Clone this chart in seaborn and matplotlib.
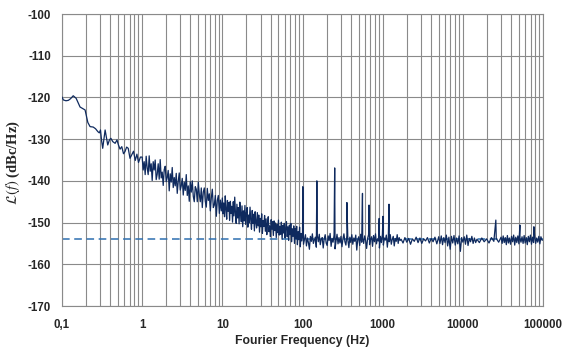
import numpy as np
import pandas as pd
import matplotlib
matplotlib.use("Agg")
import matplotlib.pyplot as plt
import seaborn as sns
from matplotlib.ticker import MultipleLocator, LogLocator, FixedLocator, NullFormatter

# ---------------- data ----------------
# low-frequency part, 0.1 Hz .. 1 Hz
low_freq = [0.100, 0.104, 0.112, 0.120, 0.128, 0.138, 0.150, 0.168, 0.182, 0.194,
            0.210, 0.224, 0.245, 0.262, 0.280, 0.292, 0.302, 0.312, 0.322, 0.335,
            0.345, 0.358, 0.372, 0.390, 0.407, 0.430, 0.460, 0.485, 0.506, 0.530,
            0.557, 0.585, 0.610, 0.640, 0.670, 0.705, 0.740, 0.780, 0.820, 0.860,
            0.900, 0.950]
low_val = [-119.9, -120.6, -120.8, -120.7, -120.3, -119.6, -120.2, -122.3, -122.7, -123.0,
           -126.0, -127.0, -127.1, -127.5, -128.2, -128.5, -127.8, -130.4, -132.2, -129.6,
           -127.8, -129.5, -131.4, -130.2, -129.8, -130.6, -131.0, -130.2, -131.4, -132.4,
           -131.8, -133.5, -133.0, -131.9, -132.2, -134.6, -133.8, -132.9, -135.1, -133.6,
           -135.6, -134.3]

# 1 Hz .. 10 Hz (dense noisy band)
seg1_range = (1.0, 10.0)
seg1_val = [-134.3, -137.4, -135.4, -138.5, -134.1, -136.9, -138.5, -134.0, -137.7, -135.9,
            -139.9, -135.4, -137.4, -135.0, -139.7, -138.4, -135.9, -139.6, -134.9, -139.3,
            -137.9, -141.1, -137.3, -136.5, -140.2, -139.2, -137.5, -142.4, -138.3, -140.3,
            -136.8, -141.6, -139.2, -141.2, -138.2, -143.0, -140.1, -138.1, -142.2, -141.2,
            -139.4, -143.4, -140.3, -142.3, -138.5, -143.5, -141.2, -144.9, -140.2, -142.7,
            -140.0, -143.7, -145.0, -141.4, -142.0, -145.0, -140.3, -143.2, -145.0, -141.7,
            -146.4, -142.7, -141.7, -144.9, -146.3, -141.8, -144.7, -143.1, -147.2, -144.1,
            -142.0, -146.4, -145.8, -143.5, -148.5, -144.7, -143.5, -147.8, -144.6, -147.2]

# 10 Hz .. 100 Hz
seg2_range = (10.0, 100.0)
seg2_val = [-144.1, -147.9, -145.3, -148.6, -143.6, -146.8, -149.2, -144.7, -147.3, -145.2,
            -149.5, -144.9, -147.8, -146.1, -149.9, -145.0, -148.4, -143.9, -147.6, -150.2,
            -145.6, -148.9, -146.4, -150.3, -145.1, -147.9, -149.8, -146.0, -151.0, -147.2,
            -149.6, -145.9, -150.4, -147.8, -146.4, -151.1, -148.2, -150.0, -146.3, -149.4,
            -151.6, -147.1, -150.2, -148.0, -152.0, -147.4, -149.9, -151.3, -147.6, -150.8,
            -148.2, -152.3, -149.0, -151.0, -147.9, -152.6, -149.5, -150.9, -148.3, -152.1,
            -149.1, -152.9, -150.2, -148.6, -152.2, -150.8, -153.4, -149.3, -151.6, -149.8,
            -153.1, -149.6, -151.9, -150.1, -153.6, -150.5, -152.4, -149.4, -153.0, -150.9,
            -152.8, -149.9, -154.0, -150.7, -152.5, -150.2, -153.7, -151.3, -149.8, -153.4,
            -151.0, -154.3, -150.6, -152.9, -150.2, -154.6, -151.5, -153.3, -150.8, -155.0,
            -151.4, -153.9, -150.9, -155.3, -152.2, -154.1, -151.1, -155.8, -152.6, -154.4]

# 100 Hz .. 1700 Hz
seg3_range = (100.0, 1700.0)
seg3_val = [-153.0, -155.2, -154.1, -152.9, -155.6, -153.7, -154.8, -156.4, -153.3, -154.5,
            -152.7, -155.0, -154.2, -153.5, -155.9, -153.1, -154.6, -152.8, -155.3, -154.0,
            -153.6, -156.1, -153.9, -152.9, -154.9, -155.5, -153.2, -154.3, -152.6, -155.7,
            -153.8, -154.7, -153.0, -156.3, -154.4, -152.8, -155.1, -153.6, -154.9, -153.3,
            -155.8, -153.9, -152.7, -154.6, -155.4, -153.1, -154.2, -156.0, -153.5, -154.8,
            -152.9, -155.2, -153.7, -154.5, -153.0, -156.6, -154.1, -153.4, -155.5, -152.8,
            -154.7, -153.6, -155.0, -153.2, -154.3, -156.2, -153.8, -152.9, -155.3, -154.0,
            -153.4, -155.7, -153.1, -154.6, -152.7, -155.1, -153.9, -154.4, -156.1, -153.3,
            -154.8, -152.8, -155.4, -153.7, -154.2, -153.0, -155.9, -153.5, -154.6, -152.9,
            -155.2, -154.0, -153.3, -155.6, -153.8, -154.5, -152.9, -155.0, -153.6, -154.3]

# 1700 Hz .. 5000 Hz
seg4_range = (1700.0, 5000.0)
seg4_val = [-154.0, -154.9, -153.6, -154.7, -153.8, -155.2, -153.9, -154.5, -153.5, -154.8,
            -153.7, -155.0, -153.9, -154.4, -153.6, -154.9, -153.8, -154.6, -153.5, -155.1]

# 5000 Hz .. 15000 Hz
seg5_range = (5000.0, 15000.0)
seg5_val = [-153.4, -155.0, -153.2, -155.3, -153.6, -154.8, -153.0, -155.6, -153.5, -156.4,
            -153.3, -154.9, -153.1, -155.4, -153.7, -155.1, -153.2, -156.9, -153.6, -154.7,
            -153.4, -155.2, -153.0, -155.5, -153.8, -154.6, -153.3, -155.0, -153.7, -154.8]

# 15000 Hz .. 30000 Hz
seg6_range = (15000.0, 30000.0)
seg6_val = [-154.0, -154.8, -153.7, -154.6, -153.9, -154.9, -153.6, -154.5, -153.8, -154.7]

# 30000 Hz .. 100000 Hz
seg7_range = (30000.0, 100000.0)
seg7_val = [-153.5, -155.0, -153.2, -154.8, -153.6, -155.3, -153.1, -154.9, -153.7, -155.2,
            -153.3, -154.6, -153.0, -155.4, -153.5, -154.8, -153.2, -155.1, -153.8, -154.7,
            -153.4, -155.0, -153.1, -154.9, -153.6, -155.3, -153.3, -154.6, -153.0, -155.2,
            -153.5, -154.8, -153.2, -155.0, -153.7, -154.7, -153.3, -155.1, -153.4, -154.2]

# spurious lines
spur_freq = [101.0, 151.0, 252.0, 358.0, 560.0, 676.0, 905.0, 1010.0, 1200.0,
             25800.0, 51500.0, 77000.0]
spur_val = [-141.4, -140.0, -136.9, -145.2, -143.0, -145.8, -149.0, -148.5, -145.6,
            -149.4, -150.6, -151.0]

# floor reference (dashed)
floor_level = -154.0

xtick_vals = [0.1, 1, 10, 100, 1000, 10000, 100000]
xtick_labels = ["0,1", "1", "10", "100", "1000", "10000", "100000"]
ytick_vals = [-170, -160, -150, -140, -130, -120, -110, -100]

# ---------------- build the trace ----------------
segments = [(seg1_range, seg1_val), (seg2_range, seg2_val), (seg3_range, seg3_val),
            (seg4_range, seg4_val), (seg5_range, seg5_val), (seg6_range, seg6_val),
            (seg7_range, seg7_val)]
freqs = list(low_freq)
vals = list(low_val)
for (f0, f1), v in segments:
    grid = np.geomspace(f0, f1, len(v), endpoint=False)
    freqs.extend(grid.tolist())
    vals.extend(v)
freqs.append(100000.0)
vals.append(-154.2)
freqs.extend(spur_freq)
vals.extend(spur_val)

df = pd.DataFrame({"f": freqs, "L": vals}).sort_values("f").reset_index(drop=True)

# ---------------- plot ----------------
sns.set_style("white")
plt.rcParams["font.family"] = ["Liberation Sans", "DejaVu Sans"]
plt.rcParams["mathtext.fontset"] = "stix"

fig = plt.figure(figsize=(5.66, 3.49), dpi=100)
ax = fig.add_axes([62 / 566, 1 - 306 / 349, 481 / 566, 292 / 349])

ax.set_xscale("log")
ax.set_xlim(0.1, 100000)
ax.set_ylim(-170, -100)

grid_col = "#8a8a8a"
ax.xaxis.set_major_locator(FixedLocator(xtick_vals))
ax.xaxis.set_minor_locator(LogLocator(base=10, subs=np.arange(2, 10), numticks=20))
ax.xaxis.set_minor_formatter(NullFormatter())
ax.set_xticks(xtick_vals)
ax.set_xticklabels(xtick_labels, fontsize=8.3, fontweight="bold")
ax.yaxis.set_major_locator(FixedLocator(ytick_vals))
ax.yaxis.set_minor_locator(MultipleLocator(1))
ax.set_yticks(ytick_vals)
ax.set_yticklabels([str(v) for v in ytick_vals], fontsize=8.3, fontweight="bold")

ax.grid(which="both", axis="x", color=grid_col, linewidth=0.8)
ax.grid(which="major", axis="y", color=grid_col, linewidth=0.8)
ax.set_axisbelow(True)

for s in ax.spines.values():
    s.set_color(grid_col)
    s.set_linewidth(0.8)

ax.tick_params(axis="x", which="major", direction="out", length=5, width=0.8,
               color=grid_col, pad=4)
ax.tick_params(axis="x", which="minor", direction="out", length=4, width=0.8,
               color=grid_col)
ax.tick_params(axis="y", which="major", direction="out", length=4, width=0.8,
               color=grid_col, pad=4)
ax.tick_params(axis="y", which="minor", direction="in", length=3, width=0.6,
               color=grid_col)

ax.axhline(floor_level, color="#2e6fb0", linewidth=1.1, linestyle=(0, (5, 3)), zorder=2)

sns.lineplot(data=df, x="f", y="L", ax=ax, color="#0f2a5e", linewidth=0.9,
             sort=False, estimator=None, zorder=3)

ax.set_xlabel("Fourier Frequency (Hz)", fontsize=8.8, fontweight="bold", labelpad=3)
ax.set_ylabel(r"$\mathcal{L}(f)$ (dBc/Hz)", fontsize=10.5, fontweight="bold",
              family=["Liberation Serif", "DejaVu Serif"])
ax.yaxis.set_label_coords(-0.083, 0.49)

fig.savefig("out.png", dpi=100)
